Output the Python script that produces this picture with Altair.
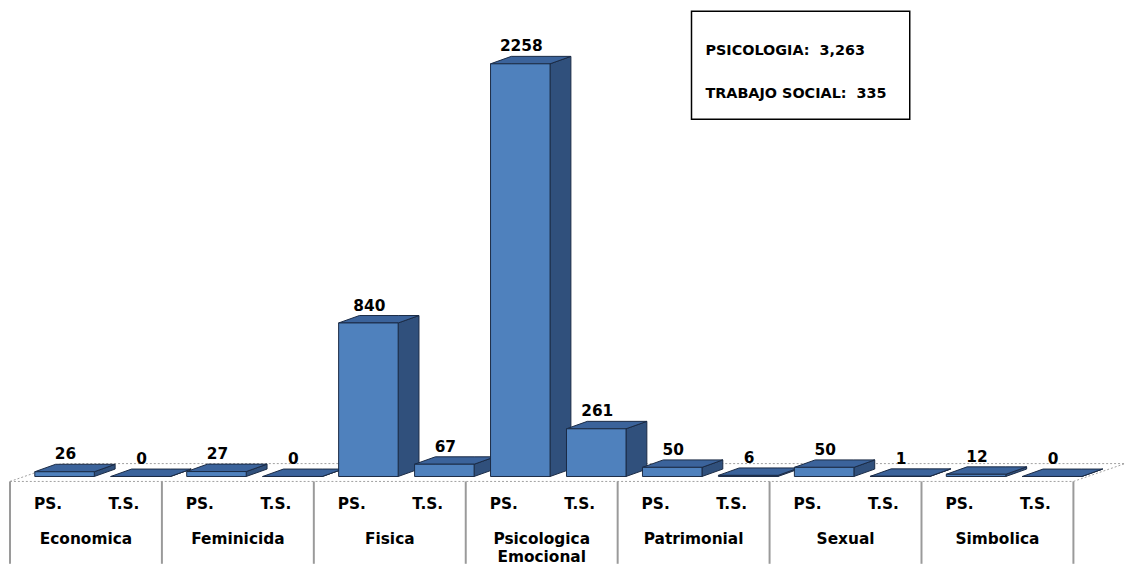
import altair as alt
import pandas as pd

# ---------------- data ----------------
categories = ["Economica", "Feminicida", "Fisica", "Psicologica Emocional",
              "Patrimonial", "Sexual", "Simbolica"]
category_lines = [["Economica"], ["Feminicida"], ["Fisica"],
                  ["Psicologica", "Emocional"], ["Patrimonial"], ["Sexual"], ["Simbolica"]]
groups = ["PS.", "T.S."]
ps_values = [26, 27, 840, 2258, 50, 50, 12]
ts_values = [0, 0, 67, 261, 6, 1, 0]
totals_labels = ["PSICOLOGIA:\u00a0\u00a03,263", "TRABAJO SOCIAL:\u00a0\u00a0335"]

# ---------------- geometry helpers ----------------
W, H = 1119, 558
SLOT = 76.57            # px per bar slot
X0 = 2.0                # px of slot 0 left edge
Y0 = 470.0              # px of value 0 (front floor of bars)
K = 416.0 / 2258.0      # px per unit value

x_domain = [(0 - X0) / SLOT, (W - X0) / SLOT]
y_domain = [(Y0 - H) / K, Y0 / K]


def dxs(p):
    return p / SLOT


def dys(p):
    return p / K


def v_at(py):
    return (Y0 - py) / K


FRONT_OFF = dxs(25)
FRONT_W = dxs(60)
DX = dxs(21)
DV = dys(7.5)

FONT = "DejaVu Sans"
FRONT_C = "#4F81BD"
SIDE_C = "#30507C"
TOP_C = "#3B639B"
EDGE_C = "#1A2B45"

xs = alt.Scale(domain=x_domain, nice=False, zero=False)
ys = alt.Scale(domain=y_domain, nice=False, zero=False)

front_rows, side_rows, top_rows, lab_rows, grp_rows = [], [], [], [], []
for i, cat in enumerate(categories):
    for j, vals in enumerate([ps_values, ts_values]):
        s = 2 * i + j
        v = vals[i]
        bid = f"{i}-{j}"
        xl = s + FRONT_OFF
        xr = xl + FRONT_W
        front_rows.append(dict(id=bid, x=xl, x2=xr, y=0, y2=v))
        side_rows += [dict(id=bid, x=xr, y=v, y2=0),
                      dict(id=bid, x=xr + DX, y=v + DV, y2=DV)]
        top_rows += [dict(id=bid, x=xl, y=v, y2=v),
                     dict(id=bid, x=xl + DX, y=v + DV, y2=v),
                     dict(id=bid, x=xr, y=v + DV, y2=v),
                     dict(id=bid, x=xr + DX, y=v + DV, y2=v + DV)]
        lab_rows.append(dict(x=(xl + xr) / 2 + dxs(1), y=v + DV + dys(5), t=str(v)))
        grp_rows.append(dict(x=s + 0.5, y=v_at(502.7), t=groups[j]))

cat_rows = []
for i, lines in enumerate(category_lines):
    for k, ln in enumerate(lines):
        cat_rows.append(dict(x=2 * i + 1, y=v_at(537.7 + 19 * k), t=ln))

# floor (3D base plane)
FLOOR_FRONT = v_at(475)
FLOOR_BACK = v_at(457)
FDX = dxs(52)
n_slots = 2 * len(categories)
floor_df = pd.DataFrame([
    dict(id="f", x=0, y=FLOOR_FRONT, y2=FLOOR_FRONT),
    dict(id="f", x=FDX, y=FLOOR_BACK, y2=FLOOR_FRONT),
    dict(id="f", x=n_slots, y=FLOOR_BACK, y2=FLOOR_FRONT),
    dict(id="f", x=n_slots + FDX, y=FLOOR_BACK, y2=FLOOR_BACK),
])
sep_df = pd.DataFrame(dict(x=[2 * i for i in range(len(categories) + 1)],
                           y=[FLOOR_FRONT] * (len(categories) + 1)))

X = lambda f="x:Q": alt.X(f, scale=xs, axis=None)
Y = lambda f="y:Q": alt.Y(f, scale=ys, axis=None)

floor = alt.Chart(floor_df).mark_area(
    fill="white", stroke="#a0a0a0", strokeWidth=1, strokeDash=[2, 2]
).encode(x=X(), y=Y(), y2="y2:Q", detail="id:N")

seps = alt.Chart(sep_df).mark_rule(color="#9a9a9a", strokeWidth=2).encode(
    x=X(), y=Y(), y2=alt.value(H))

sides = alt.Chart(pd.DataFrame(side_rows)).mark_area(
    fill=SIDE_C, stroke=EDGE_C, strokeWidth=1, opacity=1
).encode(x=X(), y=Y(), y2="y2:Q", detail="id:N")

tops = alt.Chart(pd.DataFrame(top_rows)).mark_area(
    fill=TOP_C, stroke=EDGE_C, strokeWidth=1, opacity=1
).encode(x=X(), y=Y(), y2="y2:Q", detail="id:N")

fronts = alt.Chart(pd.DataFrame(front_rows)).mark_rect(
    fill=FRONT_C, stroke=EDGE_C, strokeWidth=1
).encode(x=X(), x2="x2:Q", y=Y(), y2="y2:Q")

TXT = dict(font=FONT, fontSize=15.5, fontWeight="bold", color="black",
           align="center", baseline="alphabetic")

vlabels = alt.Chart(pd.DataFrame(lab_rows)).mark_text(**TXT).encode(
    x=X(), y=Y(), text="t:N")
glabels = alt.Chart(pd.DataFrame(grp_rows)).mark_text(**TXT).encode(
    x=X(), y=Y(), text="t:N")
clabels = alt.Chart(pd.DataFrame(cat_rows)).mark_text(**TXT).encode(
    x=X(), y=Y(), text="t:N")

# totals annotation box
box_df = pd.DataFrame(dict(t=[""]))
box = alt.Chart(box_df).mark_rect(
    fill="white", stroke="black", strokeWidth=1.5
).encode(x=alt.value(689), x2=alt.value(909), y=alt.value(1), y2=alt.value(110))

tot_df = pd.DataFrame(dict(t=totals_labels, py=[44.7, 88.7]))
tot_text = alt.Chart(tot_df).mark_text(
    font=FONT, fontSize=14.5, fontWeight="bold", color="black",
    align="left", baseline="alphabetic"
).encode(x=alt.value(703),
         y=alt.Y("py:Q", scale=alt.Scale(domain=[0, H], range=[0, H]), axis=None),
         text="t:N")

chart = alt.layer(
    floor, seps, sides, tops, fronts, vlabels, glabels, clabels, box, tot_text
).resolve_scale(y="independent").properties(
    width=W, height=H, padding=0, background="white"
).configure_view(stroke=None)

chart.save("out.html", embed_options={"renderer": "svg", "actions": False})
